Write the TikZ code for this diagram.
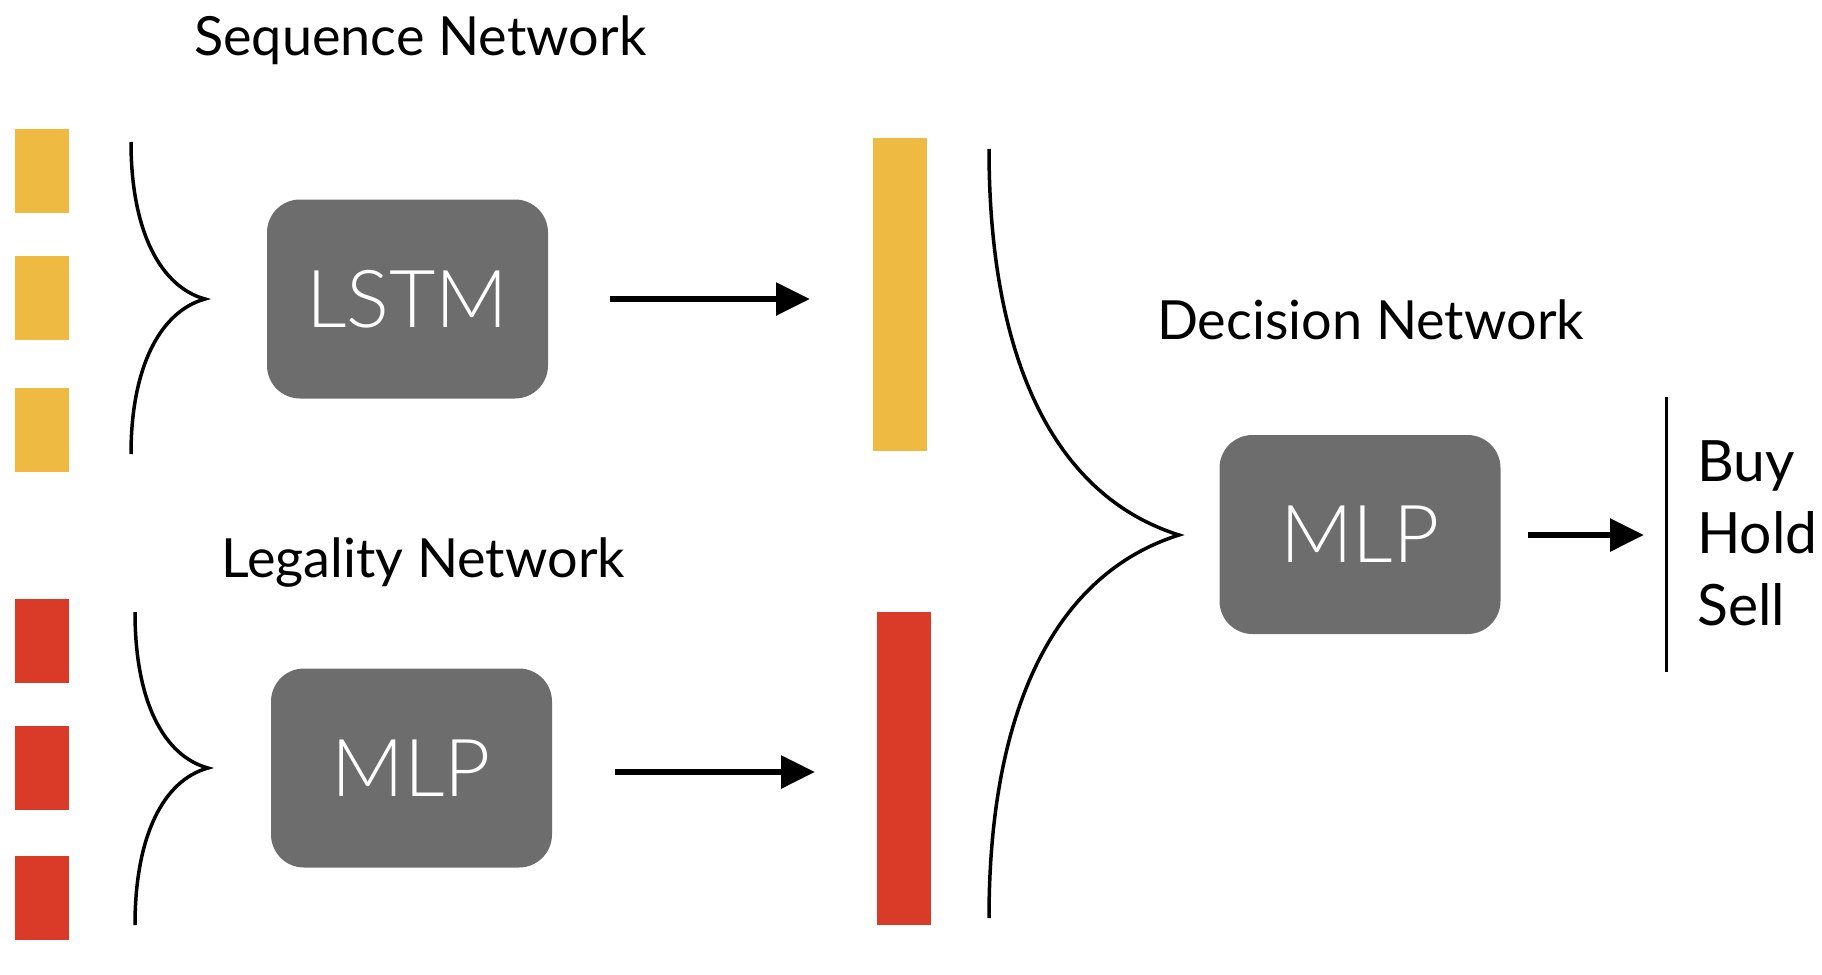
\documentclass[tikz,border=0pt]{standalone}
\usepackage{fontspec}
\setmainfont{Lato}
\newfontfamily\lightfont{Lato}[UprightFont={* Light}]
\usetikzlibrary{arrows.meta}
\definecolor{ylw}{HTML}{EEBA41}
\definecolor{rd}{HTML}{DA3A28}
\definecolor{gry}{HTML}{6D6D6D}
\begin{document}
\begin{tikzpicture}[x=1pt,y=-1pt,
  sq/.style={inner sep=0pt, minimum width=54pt, minimum height=84pt},
  bar/.style={inner sep=0pt, minimum width=54pt, minimum height=313pt},
  netbox/.style={fill=gry, rounded corners=33pt, inner sep=0pt, minimum width=281pt, minimum height=199pt,
     text=white, font=\lightfont\fontsize{80}{82}\selectfont},
  title/.style={anchor=base west, inner sep=0pt, font=\fontsize{54}{60}\selectfont},
  outlbl/.style={anchor=base west, inner sep=0pt, font=\fontsize{57}{60}\selectfont},
  brace/.style={line width=3.5pt},
  arr/.style={line width=6pt, -{Triangle[length=34pt,width=32pt]}}]
\useasboundingbox (0,0) rectangle (1822,974);
% input squares
\node[sq, fill=ylw] (y1) at (42,171) {};
\node[sq, fill=ylw] (y2) at (42,298) {};
\node[sq, fill=ylw] (y3) at (42,430) {};
\node[sq, fill=rd] (r1) at (42,641) {};
\node[sq, fill=rd] (r2) at (42,768) {};
\node[sq, fill=rd] (r3) at (42,898) {};
% titles
\node[title] (tseq) at (194,56) {Sequence Network};
\node[title] (tleg) at (221,577) {Legality Network};
\node[title] (tdec) at (1157,339) {Decision Network};
% boxes
\node[netbox] (lstm) at (407.5,299) {LSTM};
\node[netbox] (mlp1) at (411.5,768) {MLP};
\node[netbox] (mlp2) at (1360,534.5) {MLP};
% bars
\node[bar, fill=ylw] (yb) at (900,294.5) {};
\node[bar, fill=rd] (rb) at (904,768) {};
% brace coordinates
\coordinate (b1t) at (131,142);
\coordinate (b1m) at (205,299);
\coordinate (b1b) at (131,454);
\coordinate (b2t) at (135,612);
\coordinate (b2m) at (208,768);
\coordinate (b2b) at (135,925);
\coordinate (b3t) at (989,149);
\coordinate (b3m) at (1179,535);
\coordinate (b3b) at (989,918);
\draw[brace] (b1t) .. controls (131,232) and (161,287) .. (b1m)
             .. controls (161,311) and (131,366) .. (b1b);
\draw[brace] (b2t) .. controls (135,702) and (164,756) .. (b2m)
             .. controls (164,780) and (135,835) .. (b2b);
\draw[brace] (b3t) .. controls (989,361) and (1055,496) .. (b3m)
             .. controls (1055,574) and (989,709) .. (b3b);
% arrows
\coordinate (a1s) at (610,299);
\coordinate (a1e) at (810,299);
\coordinate (a2s) at (615,772);
\coordinate (a2e) at (815,772);
\coordinate (a3s) at (1528,535);
\coordinate (a3e) at (1644,535);
\draw[arr] (a1s) -- (a1e);
\draw[arr] (a2s) -- (a2e);
\draw[arr] (a3s) -- (a3e);
% output
\coordinate (vt) at (1666,397);
\coordinate (vb) at (1666,672);
\draw[line width=3pt] (vt) -- (vb);
\node[outlbl] (buy) at (1697,481) {Buy};
\node[outlbl] (hold) at (1697,553) {Hold};
\node[outlbl] (sell) at (1697,625) {Sell};
\end{tikzpicture}
\end{document}
